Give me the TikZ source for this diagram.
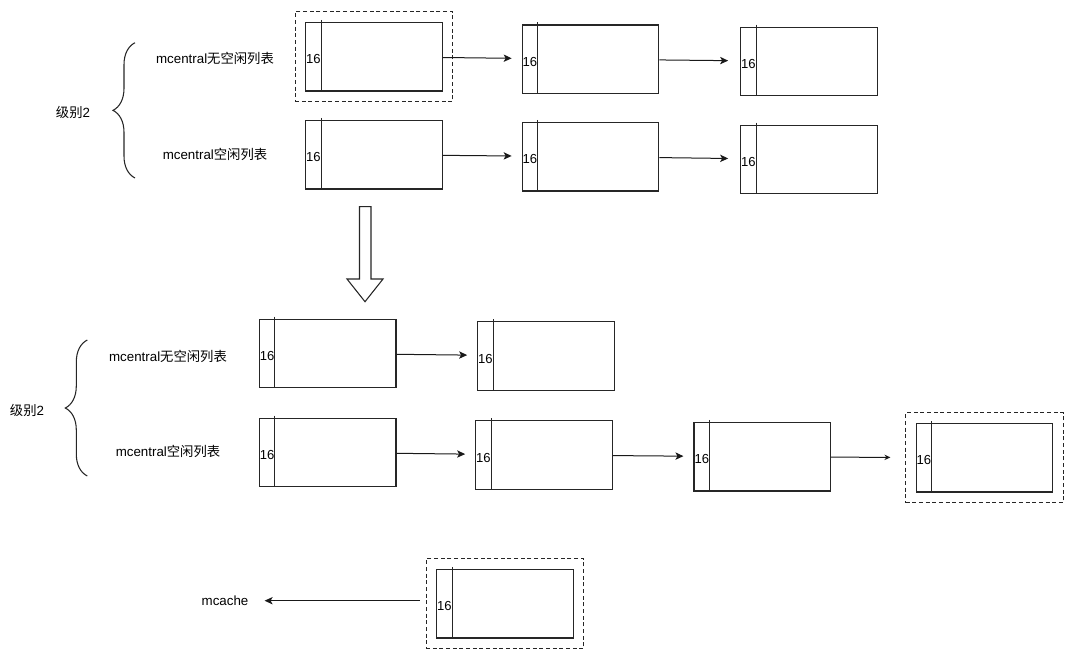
\documentclass[tikz,border=0pt]{standalone}
\usepackage{fontspec}
\setmainfont{Liberation Sans}
\newfontfamily\cjk{Noto Sans CJK SC}
\usetikzlibrary{arrows.meta,positioning,fit,decorations.pathreplacing}

\begin{document}
\begin{tikzpicture}[
  x=0.75pt, y=-0.75pt,
  >={Stealth[length=6pt,width=5.5pt,inset=1.5pt]},
  span/.style={rectangle, draw=black!85, line width=0.9pt, minimum width=102.4pt,
               minimum height=51.4pt, inner sep=0pt},
  divider/.style={draw=black!85, line width=0.9pt},
  num/.style={font=\fontsize{9.8}{11}\selectfont, inner sep=0pt, anchor=west},
  sel/.style={rectangle, draw=black!85, line width=0.8pt, dash pattern=on 3pt off 2pt,
              inner sep=7.5pt},
  edge/.style={->, draw=black!90, line width=0.75pt, shorten >=7.5pt},
  lbl/.style={font=\fontsize{10}{12}\selectfont, inner sep=2pt},
  brace/.style={draw=black!85, line width=0.8pt,
                decoration={brace, amplitude=16.5pt}, decorate},
  hollow/.style={draw=black!85, line width=0.8pt, fill=white},
]
\useasboundingbox (0,0) rectangle (1080,658);

% level 2, before
\node[span] (nf1) at (374,56.7) {};
\node[span] (nf2) at (590.5,59.2) {};
\node[span] (nf3) at (809,61.5) {};
\node[span] (fr1) at (374,154.7) {};
\node[span] (fr2) at (590.5,156.7) {};
\node[span] (fr3) at (809,159.5) {};
\node[sel, fit=(nf1)] (nf1-sel) {};

\node[lbl] (lvl1) at (73,112) {{\cjk 级别}2};
\node[lbl] (nfl1) at (215,58) {mcentral{\cjk 无空闲列表}};
\node[lbl] (frl1) at (215,154) {mcentral{\cjk 空闲列表}};
\draw[brace] (135,178) -- (135,42.7);

\draw[edge] (nf1) -- (nf2);
\draw[edge, shorten >=9pt] (nf2) -- (nf3);
\draw[edge] (fr1) -- (fr2);
\draw[edge, shorten >=9pt] (fr2) -- (fr3);

% hollow down arrow
\draw[hollow] (359.5,206.7) -- (371,206.7) -- (371,279) -- (383,279)
  -- (365,301.7) -- (347,279) -- (359.5,279) -- cycle;

% level 2, after
\node[span] (nfb1) at (327.7,353.5) {};
\node[span] (nfb2) at (546,356) {};
\node[span] (frb1) at (327.7,452.5) {};
\node[span] (frb2) at (544,455) {};
\node[span] (frb3) at (762.3,456.8) {};
\node[span] (frb4) at (984.5,457.8) {};
\node[sel, fit=(frb4)] (frb4-sel) {};

\node[lbl] (lvl2) at (27,410.5) {{\cjk 级别}2};
\node[lbl] (nfl2) at (168,356.5) {mcentral{\cjk 无空闲列表}};
\node[lbl] (frl2) at (168,451.5) {mcentral{\cjk 空闲列表}};
\draw[brace] (87.3,476) -- (87.3,340);

\draw[edge] (nfb1) -- (nfb2);
\draw[edge] (frb1) -- (frb2);
\draw[edge] (frb2) -- (frb3);
\draw[edge, shorten >=11pt, >={Stealth[length=4.5pt,width=4pt]}] (frb3) -- (frb4-sel);

% handed to mcache
\node[span] (mcspan) at (505,603.8) {};
\node[sel, fit=(mcspan)] (mcspan-sel) {};
\node[lbl] (mc) at (225,600.7) {mcache};
\draw[edge, shorten <=4.5pt, shorten >=10pt] (mcspan-sel.west |- mc.east) -- (mc.east);

\foreach \n in {nf1,nf2,nf3,fr1,fr2,fr3,nfb1,nfb2,frb1,frb2,frb3,frb4,mcspan} {
  \draw[divider] ([xshift=12pt,yshift=1.5pt]\n.north west) -- ([xshift=12pt]\n.south west);
  \node[num] (\n-num) at ([xshift=0.6pt,yshift=-2pt]\n.west) {16};
}
\end{tikzpicture}
\end{document}
